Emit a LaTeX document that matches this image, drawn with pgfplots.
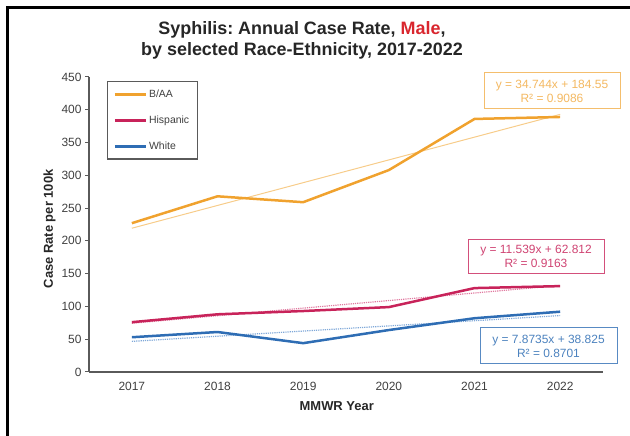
\documentclass[border=0pt]{standalone}
\usepackage{fontspec}
\setmainfont{Liberation Sans}
\usepackage{pgfplots}
\pgfplotsset{compat=1.18}
\frenchspacing

\definecolor{baa}{HTML}{F0A22E}
\definecolor{baatrend}{HTML}{F7CC8A}
\definecolor{hisp}{HTML}{C8235A}
\definecolor{hisptrend}{HTML}{E07AA0}
\definecolor{wht}{HTML}{2E6DB4}
\definecolor{whttrend}{HTML}{7FA8D8}
\definecolor{axisgray}{HTML}{5A5A5A}
\definecolor{textgray}{HTML}{404040}
\definecolor{malered}{HTML}{D9262E}

\begin{document}
\begin{tikzpicture}[x=1bp,y=1bp]
\path[use as bounding box] (0,0) rectangle (630,436);

% frame
\draw[black, line width=3bp] (7.5,0) -- (7.5,428) -- (630,428);

% title
\node[align=center, font=\fontsize{18}{21}\selectfont\bfseries, text=black!85]
  at (302,396) {Syphilis: Annual Case Rate, \textcolor{malered}{Male},\\by selected Race-Ethnicity, 2017-2022};

\begin{axis}[
  at={(89bp,64bp)}, anchor=south west,
  scale only axis, width=514bp, height=295bp,
  xmin=2016.5, xmax=2022.5, ymin=0, ymax=450,
  axis lines=left, axis line style={axisgray, line width=1.4bp, -},
  xtick={2017,2018,2019,2020,2021,2022},
  xticklabels={2017,2018,2019,2020,2021,2022},
  ytick={0,50,...,450},
  x tick style={draw=none},
  y tick style={axisgray, line width=1bp},
  tick align=outside, major tick length=4bp,
  /pgf/number format/assume math mode=true,
  tick label style={font=\fontsize{12}{12}\selectfont, text=textgray},
  xticklabel style={yshift=-3bp},
  xlabel={MMWR Year}, ylabel={Case Rate per 100k},
  label style={font=\fontsize{13}{13}\selectfont\bfseries, text=black!85},
  xlabel style={at={(0.482,0)}, anchor=north, yshift=-26bp},
  ylabel style={at={(0,0.485)}, anchor=south, yshift=30bp},
  legend style={at={(0.035,0.986)}, anchor=north west,
    draw=axisgray, line width=1.2bp, fill=white,
    font=\fontsize{10.5}{10.5}\selectfont, text=textgray,
    inner xsep=6bp, inner ysep=6bp, row sep=13bp,
    cells={anchor=west}},
  legend image code/.code={\draw[#1, line width=2.5bp] (0bp,0bp) -- (31bp,0bp);},
  legend cell align=left,
  clip=false,
]
% trend lines (least-squares fits)
\addplot[baatrend, line width=1bp, forget plot] coordinates {(2017,219.3) (2022,393.0)};
\addplot[hisptrend, line width=1.2bp, densely dotted, forget plot] coordinates {(2017,74.35) (2022,132.05)};
\addplot[whttrend, line width=1.2bp, densely dotted, forget plot] coordinates {(2017,46.70) (2022,86.07)};

% observed rates
\addplot[baa, line width=2.5bp] coordinates {
  (2017,227) (2018,268) (2019,259) (2020,308) (2021,386) (2022,389)};
\addlegendentry{B/AA}
\addplot[hisp, line width=2.5bp] coordinates {
  (2017,76) (2018,88) (2019,93) (2020,99) (2021,128) (2022,131)};
\addlegendentry{Hispanic}
\addplot[wht, line width=2.5bp] coordinates {
  (2017,53) (2018,61) (2019,44) (2020,64) (2021,82) (2022,92)};
\addlegendentry{White}
\end{axis}

% trend equations
\node[draw=baa!70, line width=1bp, fill=white, text=baa!75, align=center,
  minimum width=136bp, minimum height=36bp, inner sep=1bp,
  font=\fontsize{12}{14}\selectfont] at (552,345) {y = 34.744x + 184.55\\R² = 0.9086};
\node[draw=hisp!80, line width=1bp, fill=white, text=hisp!85, align=center,
  minimum width=136bp, minimum height=34bp, inner sep=1bp,
  font=\fontsize{12}{14}\selectfont] at (536,179.5) {y = 11.539x + 62.812\\R² = 0.9163};
\node[draw=wht!80, line width=1bp, fill=white, text=wht!85, align=center,
  minimum width=137bp, minimum height=36bp, inner sep=1bp,
  font=\fontsize{12}{14}\selectfont] at (548.5,90) {y = 7.8735x + 38.825\\R² = 0.8701};
\end{tikzpicture}
\end{document}
